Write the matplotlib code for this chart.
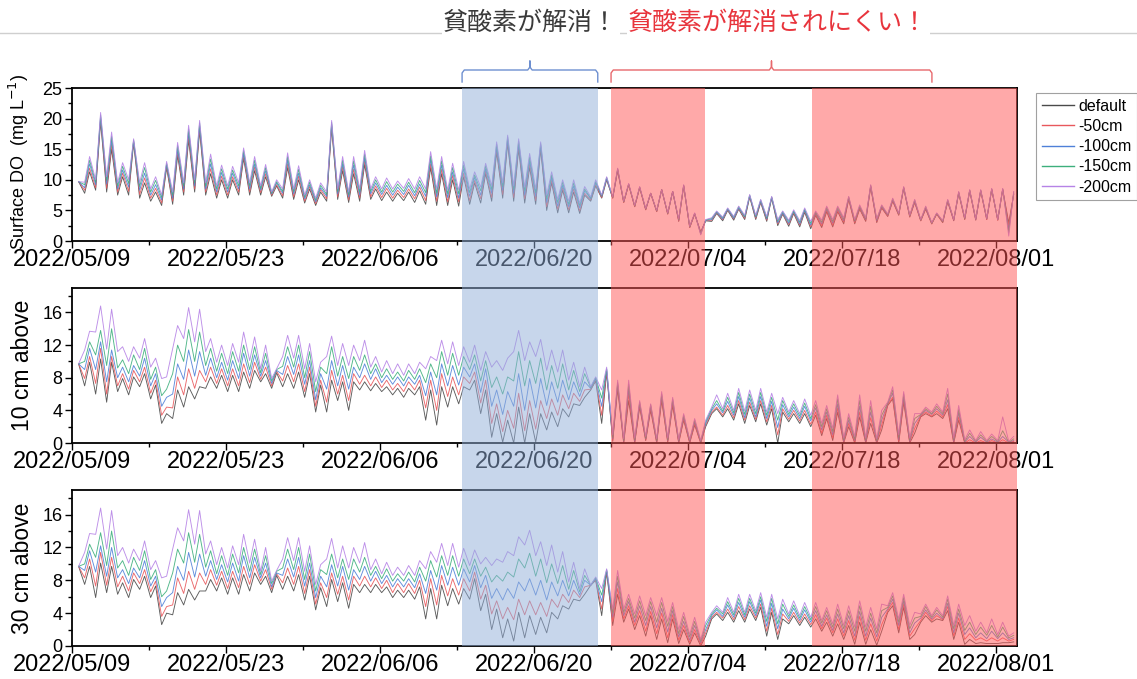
import numpy as np
import pandas as pd
import matplotlib
matplotlib.use('Agg')
import matplotlib.pyplot as plt
import matplotlib.dates as mdates
from matplotlib.patches import Rectangle
from matplotlib.lines import Line2D
from matplotlib.transforms import blended_transform_factory

plt.rcParams['font.family'] = ['Liberation Sans', 'DejaVu Sans']

# ---------------------------------------------------------------- data
start_date = '2022-05-09'
tick_labels = ['2022/05/09', '2022/05/23', '2022/06/06', '2022/06/20',
               '2022/07/04', '2022/07/18', '2022/08/01']
series_names = ['default', '-50cm', '-100cm', '-150cm', '-200cm']
panel_labels = ['Surface DO  (mg L$^{-1}$)', '10 cm above', '30 cm above']

# periods highlighted in the figure
good_period = ('2022-06-13 11:00', '2022-06-25 19:00')
bad_periods = [('2022-06-27 00:00', '2022-07-05 12:00'),
               ('2022-07-15 07:00', '2022-08-02 22:00')]
bad_brace_end = '2022-07-26 04:00'

# daily afternoon maxima (hi) and early-morning minima (lo), day 0 = 05/09
surf_default_hi = [9.7, 11.3, 19.5, 15.0, 10.5, 16.0, 9.5, 8.0, 12.0, 14.0,
                   16.5, 18.0, 11.0, 10.0, 10.0, 13.5, 11.5, 10.5, 9.0, 12.0,
                   10.0, 8.5, 8.0, 18.5, 11.5, 11.0, 12.5, 8.5, 8.0, 7.8,
                   8.0, 8.2, 12.0, 11.0, 10.0, 10.5, 9.5, 11.0, 14.5, 16.0,
                   15.0, 12.0, 15.0, 9.5, 8.3, 8.0, 7.5, 9.0, 10.0, 11.5,
                   9.2, 8.7, 7.8, 8.4, 8.1, 9.0, 4.4, 3.3, 4.5, 5.0,
                   5.2, 7.2, 6.3, 7.0, 4.4, 4.5, 4.7, 4.2, 4.8, 4.8,
                   6.8, 5.2, 8.8, 5.4, 6.5, 8.6, 6.3, 5.2, 4.4, 6.4,
                   7.8, 8.2, 8.2, 8.4, 8.4, 7.6]
surf_50_hi = [9.7, 11.9, 19.9, 15.7, 11.1, 16.2, 10.3, 8.6, 12.2, 14.5,
              17.1, 18.4, 11.8, 10.6, 10.5, 13.9, 12.1, 11.0, 9.2, 12.6,
              10.6, 8.9, 8.4, 18.8, 12.1, 11.7, 13.1, 9.0, 8.6, 8.3,
              8.5, 8.8, 12.6, 11.7, 10.7, 11.1, 9.9, 11.4, 14.9, 16.3,
              15.4, 12.6, 15.3, 9.9, 8.7, 8.5, 7.8, 9.2, 10.1, 11.6,
              9.2, 8.7, 7.8, 8.4, 8.1, 9.0, 4.4, 3.3, 4.6, 5.1,
              5.3, 7.3, 6.4, 7.1, 4.5, 4.6, 4.9, 4.4, 5.0, 5.0,
              6.9, 5.4, 8.9, 5.5, 6.6, 8.7, 6.4, 5.3, 4.4, 6.5,
              7.9, 8.2, 8.2, 8.4, 8.4, 7.7]
surf_100_hi = [9.7, 12.6, 20.2, 16.4, 11.6, 16.3, 11.1, 9.2, 12.5, 15.0,
               17.7, 18.8, 12.6, 11.2, 11.1, 14.3, 12.6, 11.5, 9.5, 13.2,
               11.1, 9.2, 8.7, 19.1, 12.6, 12.4, 13.6, 9.5, 9.1, 8.8,
               9.1, 9.3, 13.3, 12.4, 11.3, 11.8, 10.4, 11.8, 15.3, 16.6,
               15.8, 13.1, 15.6, 10.4, 9.1, 9.0, 8.2, 9.5, 10.2, 11.7,
               9.3, 8.8, 7.8, 8.4, 8.1, 9.1, 4.5, 3.4, 4.7, 5.2,
               5.4, 7.4, 6.5, 7.1, 4.6, 4.8, 5.0, 4.5, 5.2, 5.2,
               7.0, 5.5, 9.0, 5.6, 6.7, 8.7, 6.5, 5.4, 4.5, 6.6,
               7.9, 8.3, 8.3, 8.5, 8.5, 7.8]
surf_150_hi = [9.7, 13.2, 20.6, 17.1, 12.2, 16.5, 12.0, 9.9, 12.7, 15.6,
               18.3, 19.3, 13.4, 11.8, 11.6, 14.8, 13.2, 12.0, 9.7, 13.8,
               11.7, 9.6, 9.1, 19.4, 13.2, 13.1, 14.2, 10.0, 9.7, 9.3,
               9.6, 9.9, 13.9, 13.1, 12.0, 12.4, 10.8, 12.3, 15.8, 17.0,
               16.3, 13.7, 15.9, 10.8, 9.6, 9.5, 8.5, 9.7, 10.4, 11.8,
               9.3, 8.8, 7.8, 8.4, 8.1, 9.1, 4.5, 3.4, 4.8, 5.3,
               5.6, 7.5, 6.7, 7.2, 4.8, 4.9, 5.2, 4.7, 5.5, 5.5,
               7.2, 5.7, 9.1, 5.8, 6.9, 8.8, 6.7, 5.6, 4.5, 6.7,
               8.0, 8.3, 8.3, 8.5, 8.5, 8.0]
surf_200_hi = [9.7, 13.8, 21.0, 17.8, 12.8, 16.7, 12.8, 10.5, 13.0, 16.1,
               18.9, 19.7, 14.2, 12.4, 12.2, 15.2, 13.8, 12.5, 10.0, 14.4,
               12.3, 10.0, 9.5, 19.7, 13.8, 13.8, 14.8, 10.5, 10.3, 9.8,
               10.2, 10.5, 14.6, 13.8, 12.7, 13.0, 11.3, 12.7, 16.2, 17.3,
               16.7, 14.3, 16.2, 11.3, 10.0, 10.0, 8.9, 10.0, 10.5, 11.9,
               9.4, 8.9, 7.8, 8.4, 8.1, 9.2, 4.6, 3.5, 4.9, 5.4,
               5.7, 7.6, 6.8, 7.3, 4.9, 5.1, 5.4, 4.9, 5.7, 5.7,
               7.3, 5.9, 9.2, 5.9, 7.0, 8.9, 6.8, 5.7, 4.6, 6.8,
               8.1, 8.4, 8.4, 8.6, 8.6, 8.1]

surf_default_lo = [None, 7.8, 8.3, 8.0, 7.5, 7.5, 7.0, 6.5, 5.8, 6.0,
                   7.5, 8.0, 7.5, 7.0, 7.0, 7.5, 7.5, 7.5, 7.3, 7.0,
                   6.8, 6.2, 5.8, 6.5, 6.8, 6.3, 6.5, 6.8, 6.6, 6.5,
                   6.6, 6.3, 6.0, 5.8, 5.8, 5.7, 6.0, 6.2, 6.5, 7.0,
                   6.5, 6.2, 6.0, 5.0, 4.6, 4.6, 4.5, 6.5, 7.0, 7.0,
                   6.3, 5.6, 5.1, 4.8, 4.4, 3.2, 2.2, 1.5, 3.2, 3.3,
                   3.4, 3.5, 3.5, 3.2, 2.5, 2.4, 2.3, 2.0, 2.2, 2.3,
                   2.8, 2.8, 3.2, 3.0, 4.0, 4.2, 3.9, 3.3, 2.8, 3.0,
                   3.3, 3.5, 3.4, 3.5, 3.4, 3.0]
surf_50_lo = [None, 8.3, 8.7, 8.6, 8.0, 8.1, 7.6, 7.0, 6.2, 6.5,
              8.0, 8.5, 8.0, 7.5, 7.5, 8.0, 8.0, 7.9, 7.5, 7.4,
              7.2, 6.5, 6.1, 6.9, 7.2, 6.7, 7.0, 7.2, 7.1, 7.0,
              7.1, 6.9, 6.6, 6.5, 6.4, 6.4, 6.6, 6.9, 7.1, 7.6,
              7.1, 6.9, 6.6, 5.6, 5.2, 5.1, 4.9, 6.7, 7.1, 7.0,
              6.3, 5.6, 5.1, 4.8, 4.4, 3.3, 2.2, 1.4, 3.4, 3.5,
              3.6, 3.7, 3.7, 3.4, 2.8, 2.7, 2.6, 2.3, 2.5, 2.6,
              3.1, 3.0, 3.4, 3.2, 4.1, 4.3, 4.0, 3.3, 2.8, 3.1,
              3.4, 3.6, 3.5, 3.5, 3.4, 2.5]
surf_100_lo = [None, 8.7, 9.2, 9.3, 8.5, 8.8, 8.3, 7.5, 6.7, 7.0,
               8.5, 9.0, 8.5, 8.0, 8.0, 8.5, 8.5, 8.3, 7.7, 7.8,
               7.7, 6.9, 6.4, 7.3, 7.7, 7.2, 7.5, 7.7, 7.6, 7.5,
               7.6, 7.4, 7.3, 7.2, 7.1, 7.0, 7.3, 7.5, 7.8, 8.3,
               7.8, 7.5, 7.3, 6.3, 5.7, 5.6, 5.4, 6.9, 7.3, 7.1,
               6.4, 5.7, 5.2, 4.9, 4.5, 3.4, 2.3, 1.3, 3.5, 3.6,
               3.7, 3.9, 3.9, 3.6, 3.0, 2.9, 2.8, 2.6, 2.8, 2.9,
               3.3, 3.2, 3.5, 3.3, 4.2, 4.4, 4.1, 3.4, 2.9, 3.2,
               3.4, 3.7, 3.5, 3.6, 3.5, 1.9]
surf_150_lo = [None, 9.2, 9.6, 9.9, 9.0, 9.4, 8.9, 8.0, 7.1, 7.5,
               9.0, 9.5, 9.0, 8.5, 8.5, 9.0, 9.0, 8.6, 7.8, 8.1,
               8.1, 7.2, 6.7, 7.6, 8.1, 7.6, 8.0, 8.1, 8.0, 8.0,
               8.1, 7.9, 7.9, 7.8, 7.7, 7.7, 7.9, 8.2, 8.4, 8.9,
               8.4, 8.2, 7.9, 6.9, 6.3, 6.0, 5.8, 7.0, 7.4, 7.1,
               6.4, 5.7, 5.2, 4.9, 4.5, 3.5, 2.3, 1.1, 3.7, 3.8,
               3.9, 4.0, 4.0, 3.8, 3.3, 3.2, 3.1, 2.9, 3.1, 3.2,
               3.6, 3.3, 3.7, 3.5, 4.3, 4.4, 4.1, 3.4, 2.9, 3.2,
               3.5, 3.7, 3.6, 3.7, 3.5, 1.4]
surf_200_lo = [None, 9.6, 10.0, 10.5, 9.5, 10.0, 9.5, 8.5, 7.5, 8.0,
               9.5, 10.0, 9.5, 9.0, 9.0, 9.5, 9.5, 9.0, 8.0, 8.5,
               8.5, 7.5, 7.0, 8.0, 8.5, 8.0, 8.5, 8.5, 8.5, 8.5,
               8.6, 8.5, 8.5, 8.5, 8.3, 8.3, 8.5, 8.8, 9.0, 9.5,
               9.0, 8.8, 8.5, 7.5, 6.8, 6.5, 6.2, 7.2, 7.5, 7.2,
               6.5, 5.8, 5.3, 5.0, 4.6, 3.6, 2.4, 1.0, 3.8, 3.9,
               4.0, 4.2, 4.2, 4.0, 3.5, 3.4, 3.3, 3.2, 3.4, 3.5,
               3.8, 3.5, 3.8, 3.6, 4.4, 4.5, 4.2, 3.5, 3.0, 3.3,
               3.5, 3.8, 3.6, 3.7, 3.5, 0.8]

b10_default_hi = [9.7, 9.9, 10.3, 9.9, 7.9, 8.1, 8.5, 7.1, 3.6, 6.5,
                  6.9, 6.9, 8.1, 8.3, 8.3, 8.7, 8.9, 8.5, 8.6, 8.5,
                  8.7, 8.5, 7.1, 7.7, 7.5, 7.5, 7.5, 7.3, 6.9, 6.7,
                  6.7, 6.9, 6.5, 6.9, 6.9, 6.9, 7.7, 6.5, 3.6, 2.8,
                  4.4, 3.6, 3.6, 3.8, 4.2, 4.8, 5.6, 7.6, 8.6, 6.6,
                  5.2, 4.4, 4.0, 5.2, 4.6, 2.8, 2.2, 2.0, 4.2, 4.2,
                  4.8, 4.6, 4.8, 4.2, 3.8, 3.6, 3.6, 3.4, 3.0, 3.8,
                  2.0, 3.2, 2.4, 1.6, 5.4, 5.0, 1.2, 3.6, 3.6, 4.2,
                  2.8, 0.1, 0.1, 0.1, 0.1, 0.1]
b10_50_hi = [9.7, 10.6, 11.6, 10.6, 8.5, 8.9, 9.3, 7.7, 4.4, 8.1,
             9.1, 8.9, 9.3, 9.1, 9.1, 9.7, 9.9, 9.3, 8.8, 9.5,
             9.7, 9.3, 7.7, 8.9, 8.3, 8.5, 8.3, 8.1, 7.7, 7.3,
             7.5, 7.7, 7.7, 8.5, 8.1, 8.1, 8.7, 7.7, 4.8, 4.0,
             6.1, 5.2, 5.2, 5.4, 5.9, 6.1, 6.5, 7.8, 8.8, 7.0,
             6.0, 4.6, 4.3, 5.5, 4.9, 3.0, 2.4, 2.2, 4.4, 4.6,
             5.2, 5.0, 5.2, 4.6, 4.2, 4.0, 4.0, 3.8, 3.4, 4.3,
             2.4, 3.8, 3.1, 2.2, 5.6, 5.3, 1.8, 3.8, 3.9, 4.7,
             3.2, 0.4, 0.3, 0.3, 0.4, 0.2]
b10_100_hi = [9.7, 11.6, 12.4, 11.4, 9.3, 9.5, 10.4, 8.5, 5.6, 9.7,
              11.4, 11.2, 10.4, 9.9, 10.1, 11.0, 10.8, 10.1, 8.9, 10.6,
              10.8, 10.1, 8.5, 10.1, 9.5, 9.3, 9.7, 9.1, 8.3, 8.1,
              8.1, 8.3, 8.7, 9.7, 9.5, 9.3, 9.7, 9.1, 6.5, 6.3,
              8.5, 7.9, 7.9, 7.5, 7.7, 7.5, 7.5, 7.9, 9.0, 7.2,
              6.6, 4.8, 4.5, 5.8, 5.2, 3.2, 2.6, 2.4, 4.8, 5.1,
              5.7, 5.5, 5.7, 5.1, 4.7, 4.4, 4.5, 4.3, 3.8, 4.8,
              2.8, 4.5, 3.8, 2.8, 6.1, 5.6, 2.4, 4.0, 4.2, 5.3,
              3.7, 0.8, 0.7, 0.5, 0.8, 0.3]
b10_150_hi = [9.7, 12.4, 13.8, 14.0, 10.2, 10.8, 11.6, 9.3, 6.6, 12.0,
              13.9, 13.6, 11.6, 11.0, 11.2, 12.0, 11.8, 11.0, 9.0, 11.8,
              12.0, 11.2, 9.3, 11.8, 10.6, 10.6, 10.8, 9.7, 9.1, 8.7,
              8.9, 9.1, 9.7, 11.2, 11.0, 10.6, 10.8, 10.1, 8.1, 8.1,
              11.2, 10.1, 10.4, 9.5, 9.7, 8.9, 8.5, 8.0, 9.1, 7.4,
              7.2, 5.0, 4.7, 6.0, 5.4, 3.4, 2.8, 2.6, 5.2, 5.6,
              6.2, 6.0, 6.2, 5.6, 5.2, 4.8, 4.9, 4.7, 4.2, 5.4,
              3.2, 5.2, 4.5, 3.4, 6.5, 6.0, 3.0, 4.2, 4.5, 6.0,
              4.1, 1.2, 1.0, 0.8, 1.5, 0.5]
b10_200_hi = [9.7, 13.7, 16.8, 16.4, 11.8, 11.8, 12.8, 10.4, 8.1, 14.4,
              16.6, 16.4, 12.8, 12.0, 12.2, 13.6, 13.0, 12.0, 9.1, 13.2,
              13.2, 12.2, 9.9, 13.1, 12.2, 12.0, 12.6, 10.6, 10.1, 9.7,
              9.7, 9.9, 10.6, 12.6, 12.4, 11.8, 12.0, 11.2, 10.1, 10.4,
              13.8, 12.4, 12.7, 11.4, 11.4, 9.9, 9.3, 8.1, 9.3, 7.7,
              7.7, 5.2, 4.8, 6.3, 5.6, 3.6, 3.0, 2.8, 5.9, 6.1,
              6.7, 6.5, 6.7, 6.1, 5.6, 5.2, 5.4, 5.2, 4.6, 5.9,
              3.6, 5.9, 5.2, 4.0, 6.9, 6.3, 3.6, 4.4, 4.8, 6.7,
              4.6, 1.6, 1.4, 1.1, 3.2, 0.8]

b10_default_lo = [None, 7.0, 6.0, 5.0, 6.3, 5.9, 6.9, 5.4, 2.4, 3.0,
                  4.4, 5.4, 6.7, 6.7, 6.3, 6.3, 6.7, 7.5, 6.7, 6.9,
                  6.7, 5.6, 3.8, 3.8, 5.2, 4.0, 6.5, 6.4, 6.3, 5.9,
                  5.6, 5.9, 2.8, 2.2, 4.4, 4.8, 6.5, 3.6, 0.7, 0.1,
                  0.0, 0.0, 0.1, 1.6, 2.0, 3.2, 4.6, 6.5, 2.4, 0.2,
                  0.0, 0.0, 0.3, 0.0, 0.1, 0.0, 0.0, 0.0, 3.6, 3.2,
                  2.8, 2.4, 2.6, 2.2, 0.0, 2.6, 2.4, 2.0, 0.9, 0.3,
                  0.0, 0.0, 0.0, 0.0, 4.6, 0.0, 0.0, 3.2, 3.2, 3.0,
                  0.0, 0.0, 0.0, 0.0, 0.0, 0.0]
b10_50_lo = [None, 7.9, 7.3, 6.0, 7.0, 6.6, 7.5, 6.1, 3.4, 4.3,
             5.9, 6.7, 7.5, 7.3, 7.0, 7.0, 7.4, 7.8, 7.0, 7.6,
             7.5, 6.3, 4.5, 5.0, 6.0, 5.2, 7.2, 7.0, 6.8, 6.5,
             6.3, 6.5, 4.3, 4.0, 5.7, 5.9, 7.3, 4.9, 2.4, 1.4,
             1.8, 1.5, 1.7, 3.0, 3.4, 4.2, 5.1, 6.6, 3.4, 0.3,
             0.1, 0.1, 0.4, 0.1, 0.2, 0.1, 0.1, 0.0, 3.8, 3.4,
             3.1, 2.8, 2.9, 2.6, 1.0, 2.9, 2.7, 2.3, 1.2, 0.6,
             0.1, 0.1, 0.1, 0.1, 4.7, 0.2, 0.1, 3.3, 3.3, 3.2,
             0.1, 0.0, 0.0, 0.0, 0.0, 0.0]
b10_100_lo = [None, 9.0, 9.0, 7.5, 8.0, 7.5, 8.2, 7.0, 4.5, 6.0,
              7.8, 8.2, 8.3, 8.0, 7.7, 7.9, 8.2, 8.2, 7.3, 8.4,
              8.4, 7.2, 5.3, 6.6, 7.0, 6.6, 8.0, 7.8, 7.4, 7.2,
              7.0, 7.2, 5.8, 5.9, 7.0, 7.1, 8.1, 6.2, 4.5, 3.5,
              4.5, 4.0, 4.3, 4.6, 5.0, 5.3, 5.7, 6.7, 4.5, 0.5,
              0.2, 0.2, 0.5, 0.2, 0.3, 0.2, 0.2, 0.1, 4.0, 3.7,
              3.4, 3.1, 3.2, 3.0, 1.9, 3.2, 3.0, 2.7, 1.6, 1.0,
              0.2, 0.3, 0.2, 0.2, 4.8, 0.4, 0.2, 3.4, 3.5, 3.4,
              0.2, 0.1, 0.1, 0.1, 0.1, 0.1]
b10_150_lo = [None, 10.0, 10.8, 9.5, 9.2, 8.5, 9.0, 7.8, 5.8, 8.5,
              10.0, 10.0, 9.5, 8.8, 8.5, 8.8, 9.0, 8.6, 7.6, 9.4,
              9.3, 8.0, 6.3, 8.5, 8.2, 7.9, 8.9, 8.5, 8.0, 7.8,
              7.6, 7.8, 7.4, 8.0, 8.3, 8.3, 9.0, 7.6, 6.8, 6.0,
              7.6, 7.0, 7.3, 6.5, 6.7, 6.5, 6.3, 6.8, 5.5, 0.7,
              0.3, 0.4, 0.6, 0.3, 0.4, 0.3, 0.3, 0.2, 4.2, 3.9,
              3.7, 3.5, 3.6, 3.4, 2.8, 3.5, 3.3, 3.0, 2.0, 1.4,
              0.4, 0.5, 0.4, 0.3, 4.9, 0.7, 0.4, 3.5, 3.6, 3.6,
              0.4, 0.2, 0.2, 0.2, 0.2, 0.1]
b10_200_lo = [None, 11.4, 13.6, 11.5, 11.2, 10.0, 10.4, 9.3, 7.9, 11.6,
              12.8, 12.4, 11.2, 9.9, 9.5, 9.9, 10.1, 9.1, 7.9, 10.6,
              10.4, 9.1, 7.5, 10.6, 9.5, 9.5, 10.1, 9.3, 8.7, 8.5,
              8.3, 8.5, 9.1, 10.1, 9.7, 9.5, 9.9, 8.9, 9.3, 8.9,
              11.2, 10.1, 10.6, 8.9, 8.7, 7.7, 6.9, 6.9, 6.5, 1.0,
              0.5, 0.6, 0.8, 0.5, 0.6, 0.4, 0.4, 0.3, 4.4, 4.2,
              4.0, 3.9, 4.0, 3.8, 3.6, 3.8, 3.6, 3.4, 2.4, 1.8,
              0.6, 0.8, 0.6, 0.5, 5.0, 1.0, 0.6, 3.6, 3.8, 3.8,
              0.6, 0.4, 0.3, 0.3, 0.3, 0.2]

b30_default_hi = [9.7, 9.7, 10.1, 9.7, 7.7, 8.1, 8.5, 7.3, 4.0, 6.5,
                  6.9, 6.7, 8.1, 8.3, 8.3, 8.7, 8.9, 8.5, 8.6, 8.5,
                  8.7, 8.5, 7.1, 8.1, 7.7, 7.5, 7.5, 7.5, 7.2, 6.8,
                  6.8, 7.2, 7.0, 7.4, 7.0, 7.0, 8.2, 6.3, 4.5, 3.3,
                  4.1, 3.7, 3.5, 4.1, 4.9, 5.7, 6.3, 8.0, 9.0, 6.3,
                  4.5, 3.7, 3.7, 3.3, 3.3, 2.0, 1.6, 1.2, 3.9, 4.1,
                  4.3, 4.5, 4.7, 4.1, 3.3, 3.7, 3.5, 3.3, 2.9, 2.7,
                  2.5, 2.9, 2.0, 1.8, 4.9, 4.7, 1.4, 3.7, 3.3, 4.3,
                  2.9, 0.8, 0.4, 0.3, 0.4, 0.5]
b30_50_hi = [9.7, 10.6, 11.4, 10.8, 8.5, 8.9, 9.3, 7.9, 4.8, 8.3,
             9.1, 8.9, 9.3, 9.1, 9.1, 9.7, 9.9, 9.3, 8.8, 9.5,
             9.7, 9.3, 7.7, 8.9, 8.5, 8.5, 8.5, 8.3, 8.0, 7.6,
             7.6, 8.0, 8.2, 8.6, 8.2, 8.2, 9.0, 7.4, 5.5, 4.7,
             5.7, 5.5, 5.3, 5.7, 6.3, 6.8, 7.2, 8.1, 9.1, 7.0,
             4.9, 4.3, 4.2, 4.0, 3.8, 2.5, 2.0, 1.6, 4.1, 4.5,
             4.8, 4.9, 5.1, 4.6, 3.9, 4.1, 3.9, 3.8, 3.4, 3.3,
             3.1, 3.6, 2.7, 2.6, 5.3, 5.1, 2.1, 4.1, 3.7, 4.8,
             3.4, 1.5, 1.0, 1.0, 1.0, 0.8]
b30_100_hi = [9.7, 11.6, 12.2, 12.0, 9.3, 9.5, 10.4, 8.5, 5.9, 9.7,
              11.4, 11.2, 10.4, 9.9, 10.1, 11.0, 10.8, 10.1, 8.9, 10.6,
              10.8, 10.1, 8.5, 9.9, 9.7, 9.3, 9.7, 9.1, 8.6, 8.2,
              8.2, 8.8, 9.2, 9.8, 9.6, 9.4, 9.8, 8.6, 7.0, 7.0,
              7.8, 8.2, 8.0, 7.8, 8.0, 8.0, 8.0, 8.2, 9.2, 7.8,
              5.4, 4.9, 4.8, 4.6, 4.3, 3.0, 2.5, 2.0, 4.4, 5.0,
              5.3, 5.4, 5.6, 5.2, 4.5, 4.6, 4.4, 4.3, 3.8, 3.9,
              3.7, 4.2, 3.4, 3.5, 5.7, 5.5, 2.8, 4.4, 4.0, 5.2,
              4.0, 2.2, 1.6, 1.8, 1.6, 1.0]
b30_150_hi = [9.7, 12.4, 13.8, 14.0, 10.4, 10.8, 11.6, 9.3, 6.7, 11.8,
              13.8, 13.6, 11.6, 11.0, 11.2, 12.0, 11.8, 11.0, 9.1, 11.8,
              12.0, 11.2, 9.3, 11.2, 10.6, 10.6, 10.8, 9.7, 9.4, 8.8,
              9.0, 9.6, 10.4, 11.0, 11.0, 10.6, 10.6, 9.6, 8.6, 9.0,
              10.6, 11.3, 10.6, 10.0, 9.8, 9.2, 8.6, 8.3, 9.3, 8.5,
              5.8, 5.5, 5.4, 5.3, 4.8, 3.6, 3.0, 2.5, 4.6, 5.4,
              5.8, 5.8, 6.0, 5.8, 5.1, 5.0, 4.8, 4.8, 4.3, 4.5,
              4.3, 4.9, 4.0, 4.3, 6.1, 5.9, 3.4, 4.8, 4.4, 5.7,
              4.5, 2.9, 2.3, 2.5, 2.3, 1.3]
b30_200_hi = [9.7, 13.7, 16.8, 16.5, 12.0, 11.8, 12.8, 10.4, 8.5, 14.4,
              16.6, 16.5, 12.8, 12.0, 12.2, 13.6, 13.0, 12.0, 9.2, 13.2,
              13.2, 12.2, 9.9, 13.1, 12.2, 12.0, 12.6, 10.6, 10.2, 9.6,
              9.8, 10.4, 11.5, 12.5, 12.5, 11.9, 11.7, 10.8, 10.6, 11.5,
              13.3, 14.1, 12.7, 12.3, 11.5, 10.2, 9.4, 8.4, 9.4, 9.2,
              6.3, 6.1, 5.9, 5.9, 5.3, 4.1, 3.5, 2.9, 4.9, 5.9,
              6.3, 6.3, 6.5, 6.3, 5.7, 5.5, 5.3, 5.3, 4.7, 5.1,
              4.9, 5.5, 4.7, 5.1, 6.5, 6.3, 4.1, 5.1, 4.7, 6.1,
              5.1, 3.7, 2.9, 3.3, 2.9, 1.6]

b30_default_lo = [None, 7.5, 5.9, 6.5, 6.3, 5.9, 6.9, 5.9, 2.6, 3.8,
                  5.0, 5.6, 6.7, 6.7, 6.3, 6.3, 6.7, 7.5, 6.5, 6.9,
                  6.7, 5.6, 4.4, 4.8, 5.4, 4.6, 6.5, 6.5, 6.5, 5.9,
                  5.9, 5.7, 3.3, 3.3, 4.9, 5.1, 5.7, 4.3, 2.0, 1.0,
                  0.6, 1.0, 1.4, 1.6, 3.3, 4.5, 5.5, 7.4, 3.7, 2.5,
                  2.9, 2.0, 1.2, 0.8, 0.4, 0.3, 0.2, 0.0, 3.3, 3.1,
                  2.9, 2.9, 3.1, 1.2, 0.8, 2.7, 2.5, 2.3, 1.8, 1.2,
                  0.8, 0.2, 0.2, 0.1, 4.1, 1.6, 0.8, 2.9, 2.9, 3.1,
                  0.8, 0.2, 0.3, 0.3, 0.3, 0.4]
b30_50_lo = [None, 8.3, 7.3, 7.4, 7.2, 6.7, 7.6, 6.6, 3.6, 5.0,
             6.4, 6.9, 7.5, 7.4, 7.0, 7.1, 7.5, 7.9, 6.9, 7.7,
             7.5, 6.4, 5.1, 5.9, 6.3, 5.6, 7.3, 7.2, 7.0, 6.5,
             6.5, 6.4, 4.8, 5.0, 6.1, 6.2, 6.7, 5.7, 3.9, 3.3,
             3.2, 3.8, 3.8, 3.6, 4.7, 5.3, 5.9, 7.4, 4.5, 3.0,
             3.3, 2.5, 1.8, 1.5, 1.0, 0.7, 0.4, 0.2, 3.5, 3.4,
             3.2, 3.2, 3.4, 1.8, 1.4, 3.0, 2.8, 2.6, 2.1, 1.6,
             1.2, 0.7, 0.7, 0.6, 4.3, 2.0, 1.2, 3.1, 3.1, 3.2,
             1.2, 0.8, 0.7, 0.6, 0.6, 0.6]
b30_100_lo = [None, 9.2, 9.0, 8.5, 8.3, 7.6, 8.3, 7.3, 4.8, 6.5,
              8.0, 8.4, 8.5, 8.1, 7.8, 7.9, 8.3, 8.3, 7.2, 8.6,
              8.4, 7.3, 5.9, 7.2, 7.3, 6.8, 8.1, 7.9, 7.6, 7.2,
              7.2, 7.1, 6.4, 6.8, 7.4, 7.4, 7.8, 7.1, 5.8, 5.6,
              5.8, 6.7, 6.2, 5.6, 6.1, 6.1, 6.2, 7.4, 5.4, 3.5,
              3.7, 2.9, 2.5, 2.2, 1.7, 1.1, 0.7, 0.4, 3.7, 3.6,
              3.5, 3.5, 3.7, 2.4, 2.1, 3.3, 3.1, 2.9, 2.4, 1.9,
              1.6, 1.2, 1.2, 1.1, 4.5, 2.5, 1.6, 3.4, 3.3, 3.3,
              1.6, 1.4, 1.0, 0.9, 0.9, 0.8]
b30_150_lo = [None, 10.0, 10.8, 9.8, 9.5, 8.6, 9.2, 8.1, 6.0, 8.9,
              10.1, 10.2, 9.6, 8.8, 8.6, 8.9, 9.1, 8.7, 7.6, 9.5,
              9.3, 8.1, 6.7, 8.7, 8.3, 8.1, 9.0, 8.6, 8.2, 7.9,
              7.9, 7.8, 7.9, 8.4, 8.6, 8.5, 8.8, 8.5, 7.8, 7.9,
              8.4, 9.5, 8.5, 7.7, 7.6, 6.9, 6.6, 7.4, 6.2, 4.0,
              4.1, 3.4, 3.1, 2.9, 2.4, 1.5, 1.1, 0.6, 3.9, 3.9,
              3.8, 3.8, 4.0, 3.0, 2.7, 3.6, 3.4, 3.2, 2.8, 2.3,
              2.1, 1.8, 1.8, 1.6, 4.7, 2.9, 2.1, 3.6, 3.5, 3.5,
              2.1, 1.9, 1.4, 1.3, 1.1, 1.0]
b30_200_lo = [None, 11.4, 13.6, 11.8, 11.0, 10.1, 10.4, 9.3, 8.3, 11.8,
              12.8, 12.4, 11.2, 9.9, 9.5, 9.9, 10.1, 9.1, 7.9, 10.6,
              10.4, 9.1, 7.5, 10.6, 9.5, 9.5, 10.1, 9.3, 8.8, 8.6,
              8.6, 8.6, 9.4, 10.2, 9.8, 9.6, 9.8, 10.0, 9.8, 10.2,
              11.0, 12.3, 11.0, 9.8, 9.0, 7.8, 7.0, 7.4, 7.0, 4.5,
              4.5, 3.9, 3.7, 3.7, 3.0, 2.0, 1.4, 0.8, 4.1, 4.1,
              4.1, 4.1, 4.3, 3.5, 3.3, 3.9, 3.7, 3.5, 3.1, 2.7,
              2.5, 2.3, 2.3, 2.1, 4.9, 3.3, 2.5, 3.9, 3.7, 3.7,
              2.5, 2.5, 1.8, 1.6, 1.4, 1.2]

# ---------------------------------------------------------------- style
colors = ['#4a4a4a', '#e8585c', '#4f80d8', '#3daf7c', '#b683e6']
W, H = 1137, 679

fig = plt.figure(figsize=(W / 100, H / 100), dpi=100)


def px_axes(l, t, r, b):
    return fig.add_axes([l / W, 1 - b / H, (r - l) / W, (b - t) / H])


def day_curve(lo, hi):
    lo = np.array(lo, dtype=float)
    hi = np.array(hi, dtype=float)
    days = np.arange(len(hi))
    t = np.column_stack([days + 0.15, days + 0.6]).ravel()
    v = np.column_stack([lo, hi]).ravel()
    ok = ~np.isnan(v)
    return t[ok], v[ok]


base = mdates.date2num(pd.Timestamp(start_date))
major = mdates.date2num(pd.to_datetime(tick_labels, format='%Y/%m/%d'))
minor = major[:-1] + 7

ax1 = px_axes(72, 88, 1017, 241)
ax2 = px_axes(72, 288, 1017, 443)
ax3 = px_axes(72, 490, 1017, 646)

panels = [
    (ax1, [(surf_default_lo, surf_default_hi), (surf_50_lo, surf_50_hi),
           (surf_100_lo, surf_100_hi), (surf_150_lo, surf_150_hi),
           (surf_200_lo, surf_200_hi)]),
    (ax2, [(b10_default_lo, b10_default_hi), (b10_50_lo, b10_50_hi),
           (b10_100_lo, b10_100_hi), (b10_150_lo, b10_150_hi),
           (b10_200_lo, b10_200_hi)]),
    (ax3, [(b30_default_lo, b30_default_hi), (b30_50_lo, b30_50_hi),
           (b30_100_lo, b30_100_hi), (b30_150_lo, b30_150_hi),
           (b30_200_lo, b30_200_hi)]),
]

for i, (ax, series) in enumerate(panels):
    for (lo, hi), c in zip(series, colors):
        t, v = day_curve(lo, hi)
        ax.plot(base + t, v, color=c, lw=0.65, alpha=0.9)
    ax.set_xlim(base, base + 85.9)
    ax.set_xticks(major)
    ax.set_xticklabels(tick_labels, fontsize=17)
    ax.set_xticks(minor, minor=True)
    if i == 0:
        ax.set_ylim(0, 25)
        ax.set_yticks([0, 5, 10, 15, 20, 25])
        ax.set_yticks([2.5, 7.5, 12.5, 17.5, 22.5], minor=True)
        ax.set_ylabel(panel_labels[i], fontsize=13)
        ax.yaxis.set_label_coords(-0.043, 0.52)
    else:
        ax.set_ylim(0, 19)
        ax.set_yticks([0, 4, 8, 12, 16])
        ax.set_yticks([2, 6, 10, 14, 18], minor=True)
        ax.set_ylabel(panel_labels[i], fontsize=16.5)
        ax.yaxis.set_label_coords(-0.040, 0.5)
    ax.tick_params(axis='y', labelsize=13, direction='out', length=5, width=1, pad=2)
    ax.tick_params(axis='x', direction='out', length=5, width=1, pad=1)
    ax.tick_params(which='minor', direction='out', length=3, width=1)
    for sp in ax.spines.values():
        sp.set_linewidth(1.3)

# shaded periods drawn across all three panels
trans = blended_transform_factory(ax1.transData, fig.transFigure)
y_bot = 1 - 646 / H
y_top = 1 - 88 / H


def to_num(s):
    return mdates.date2num(pd.Timestamp(s))


g0, g1 = to_num(good_period[0]), to_num(good_period[1])
fig.add_artist(Rectangle((g0, y_bot), g1 - g0, y_top - y_bot, transform=trans,
                         facecolor='#91aed9', alpha=0.5, edgecolor='none', zorder=10))
for a, b in bad_periods:
    x0, x1 = to_num(a), to_num(b)
    fig.add_artist(Rectangle((x0, y_bot), x1 - x0, y_top - y_bot, transform=trans,
                             facecolor='#ff5555', alpha=0.5, edgecolor='none', zorder=10))


def brace(x0, x1, color):
    xm = (x0 + x1) / 2
    d = 0.2
    yb, yl, yc, yt = 1 - 82 / H, 1 - 73 / H, 1 - 70 / H, 1 - 61 / H
    xs = [x0, x0, x0 + d, xm - d, xm, xm, xm, xm + d, x1 - d, x1, x1]
    ys = [yb, yl, yc, yc, 1 - 67 / H, yt, 1 - 67 / H, yc, yc, yl, yb]
    fig.add_artist(Line2D(xs, ys, transform=trans, color=color, lw=1.0))


brace(g0, g1, '#6d8fd0')
brace(to_num(bad_periods[0][0]), to_num(bad_brace_end), '#e8686c')

# header line and texts
fig.add_artist(Line2D([0, 1], [1 - 33 / H] * 2, transform=fig.transFigure,
                      color='#cfcfcf', lw=1.0))
jp = ['Noto Sans CJK JP', 'DejaVu Sans']
fig.text(443 / W, 1 - 23 / H, '貧酸素が解消！', family=jp, fontsize=18,
         color='#3a3a3a', ha='left', va='center',
         bbox=dict(facecolor='white', edgecolor='none', pad=1))
fig.text(628 / W, 1 - 23 / H, '貧酸素が解消されにくい！', family=jp, fontsize=18,
         color='#e8343c', ha='left', va='center',
         bbox=dict(facecolor='white', edgecolor='none', pad=1))

# legend
handles = [Line2D([], [], color=c, lw=1.0) for c in colors]
leg = fig.legend(handles, series_names, loc='upper left',
                 bbox_to_anchor=(1036 / W, 1 - 93 / H), fontsize=11.5,
                 frameon=True, fancybox=False, edgecolor='#8a8a8a',
                 handlelength=2.0, handletextpad=0.3, labelspacing=0.33,
                 borderpad=0.35, borderaxespad=0)
leg.get_frame().set_linewidth(0.8)

fig.savefig('out.png', dpi=100)
